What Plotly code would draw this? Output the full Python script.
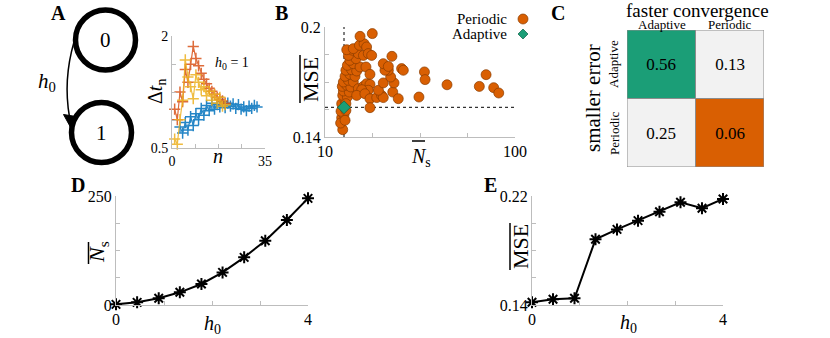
import plotly.graph_objs as go

W, H = 830, 338
FONT = 'Liberation Serif'
AXC = '#bdbdbd'

# panel A inset: inter-sample interval per sample index, h0 = 1
n_blue = list(range(3, 33))
dt_blue = [0.78, 0.70, 0.84, 0.74, 0.92, 0.80, 0.96, 0.88, 1.03, 0.94,
           1.07, 1.00, 1.10, 1.02, 1.08, 1.05, 1.12, 1.04, 1.10, 1.06,
           1.09, 1.03, 1.08, 1.02, 1.05, 1.00, 1.06, 1.03, 1.07, 1.05]
n_red = list(range(1, 21))
dt_red = [1.02, 0.88, 1.25, 1.12, 1.55, 1.38, 1.62, 1.86, 1.70, 1.60,
          1.50, 1.42, 1.36, 1.30, 1.26, 1.22, 1.18, 1.15, 1.13, 1.10]
n_yellow = list(range(1, 21))
dt_yellow = [0.62, 0.55, 0.88, 1.14, 1.68, 1.45, 1.32, 1.16, 1.48, 1.38,
             1.28, 1.32, 1.20, 1.26, 1.14, 1.22, 1.10, 1.18, 1.06, 1.08]

# panel B: mean number of samples vs mean MSE
ns_periodic = [18.4, 17.9, 19.0, 17.6, 19.9, 17.9, 19.5, 18.4, 20.6, 18.7,
               21.5, 18.2, 20.3, 22.2, 18.7, 21.1, 23.4, 19.5, 21.8, 24.2,
               19.9, 22.6, 25.0, 20.6, 23.4, 26.6, 21.8, 24.7, 21.1, 23.1,
               25.8, 28.2, 20.3, 23.4, 26.3, 28.5, 26.6, 32.4, 29.7, 30.5,
               32.1, 29.4, 31.3, 25.8, 28.2, 29.7, 31.3, 30.5, 27.4, 25.0,
               28.9, 31.3, 34.5, 36.8, 37.6, 35.3, 37.6, 42.1, 44.7, 42.7,
               41.1, 40.0, 38.4, 37.6, 40.0, 41.7, 46.3, 47.1, 54.5, 57.1,
               57.4, 67.8, 83.1, 86.3, 89.9, 92.3, 31.3, 19.9, 17.4, 19.5]
mse_periodic = [0.1440, 0.1505, 0.1522, 0.1540, 0.1545, 0.1582, 0.1600, 0.1627, 0.1618, 0.1651,
                0.1645, 0.1676, 0.1682, 0.1673, 0.1700, 0.1709, 0.1700, 0.1731, 0.1742, 0.1731,
                0.1764, 0.1767, 0.1760, 0.1791, 0.1800, 0.1782, 0.1818, 0.1827, 0.1845, 0.1873,
                0.1855, 0.1845, 0.1876, 0.1882, 0.1900, 0.1909, 0.1949, 0.1964, 0.1891, 0.1855,
                0.1845, 0.1782, 0.1742, 0.1664, 0.1676, 0.1691, 0.1687, 0.1655, 0.1658, 0.1627,
                0.1636, 0.1609, 0.1615, 0.1627, 0.1615, 0.1655, 0.1695, 0.1645, 0.1609, 0.1695,
                0.1727, 0.1764, 0.1764, 0.1800, 0.1785, 0.1840, 0.1773, 0.1764, 0.1618, 0.1755,
                0.1713, 0.1685, 0.1676, 0.1740, 0.1669, 0.1640, 0.1560, 0.1582, 0.1476, 0.1491]
ns_adaptive = [19.0]
mse_adaptive = [0.1562]

# panel C: fraction of runs
methods = ['Adaptive', 'Periodic']
fractions = [[0.56, 0.13],
             [0.25, 0.06]]

# panels D, E: dependence on h0
h0 = [0, 0.44, 0.89, 1.33, 1.78, 2.22, 2.67, 3.11, 3.56, 4]
ns_mean = [1.5, 6.1, 15.3, 29.1, 48.2, 74.8, 109.3, 147.5, 195.0, 244.6]
mse_mean = [0.1420, 0.1442, 0.1449, 0.1882, 0.1955, 0.2019, 0.2085, 0.2154, 0.2110, 0.2178]


def px(x):
    return x / W


def py(y):
    return 1 - y / H


def axis(x0, x1, rng, tickvals, ticktext, anchor, size=16, **kw):
    d = dict(
        domain=[x0, x1],
        range=rng,
        tickvals=tickvals,
        ticktext=ticktext,
        anchor=anchor,
        showline=True,
        linecolor=AXC,
        linewidth=1,
        ticks='inside',
        ticklen=4,
        tickcolor=AXC,
        showgrid=False,
        zeroline=False,
        tickfont=dict(family=FONT, size=size, color='black'),
        )
    d.update(kw)
    return d


def ends(vals):
    return [str(vals[0])] + [''] * (len(vals) - 2) + [str(vals[-1])]


def text(x, y, s, size=16, angle=0, **kw):
    d = dict(
        x=px(x), y=py(y), xref='paper', yref='paper',
        text=s, showarrow=False, textangle=angle,
        xanchor='center', yanchor='middle',
        font=dict(family=FONT, size=size, color='black'),
        )
    d.update(kw)
    return d


def line(x0, y0, x1, y1, width=1.5, **kw):
    d = dict(type='line', xref='paper', yref='paper',
             x0=px(x0), y0=py(y0), x1=px(x1), y1=py(y1),
             line=dict(color='black', width=width))
    d.update(kw)
    return d


traces = []
for n, dt, col in [(n_blue, dt_blue, '#0072BD'),
                   (n_red, dt_red, '#D95319'),
                   (n_yellow, dt_yellow, '#EDB120')]:
    traces.append(dict(
        type='scatter', x=n, y=dt, mode='lines+markers',
        xaxis='x', yaxis='y', opacity=0.85, cliponaxis=False,
        line=dict(color=col, width=1.2),
        marker=dict(symbol='cross-thin', size=8, line=dict(color=col, width=1.5)),
        ))

traces.append(dict(
    type='scatter', x=ns_periodic, y=mse_periodic, mode='markers',
    xaxis='x2', yaxis='y2', cliponaxis=False,
    marker=dict(symbol='circle', size=10, color='#D95F02',
                line=dict(color='#8a3c00', width=0.7)),
    ))
traces.append(dict(
    type='scatter', x=ns_adaptive, y=mse_adaptive, mode='markers',
    xaxis='x2', yaxis='y2', cliponaxis=False,
    marker=dict(symbol='diamond', size=10, color='#1B9E77',
                line=dict(color='#0b5e45', width=0.7)),
    ))

zcode = [[i if i == j else 2 for j in range(2)] for i in range(2)]
traces.append(dict(
    type='heatmap', z=zcode, x=[0, 1], y=[0, 1], text=fractions,
    texttemplate='%{text:.2f}', zmin=0, zmax=2, showscale=False,
    colorscale=[[0, '#1B9E77'], [0.33, '#1B9E77'], [0.34, '#D95F02'],
                [0.66, '#D95F02'], [0.67, '#F2F2F2'], [1, '#F2F2F2']],
    textfont=dict(family=FONT, size=17, color='black'),
    xaxis='x3', yaxis='y3', hoverinfo='skip',
    ))

for y, ax in [(ns_mean, '4'), (mse_mean, '5')]:
    traces.append(dict(
        type='scatter', x=h0, y=y, mode='lines+markers',
        xaxis='x' + ax, yaxis='y' + ax, cliponaxis=False,
        line=dict(color='black', width=2),
        marker=dict(symbol='asterisk-open', size=10, color='black',
                    line=dict(color='black', width=2)),
        ))

yt_a = [0.5, 0.875, 1.25, 1.625, 2]
xt_a = [0, 8.75, 17.5, 26.25, 35]
xt_b = [10, 32.5, 55, 77.5, 100]
yt_b = [0.14, 0.155, 0.17, 0.185, 0.2]
xt_h = [0, 1, 2, 3, 4]
yt_d = [0, 62.5, 125, 187.5, 250]
yt_e = [0.14, 0.16, 0.18, 0.2, 0.22]

shapes = [
    # panel A state diagram
    dict(type='circle', xref='paper', yref='paper', x0=px(75.5), x1=px(135.5),
         y0=py(70), y1=py(10), line=dict(color='black', width=5.5)),
    dict(type='circle', xref='paper', yref='paper', x0=px(71.5), x1=px(131.5),
         y0=py(162.5), y1=py(102.5), line=dict(color='black', width=5.5)),
    dict(type='path', xref='paper', yref='paper',
         path=f'M {px(74)},{py(42)} Q {px(63)},{py(80)} {px(69.5)},{py(117)}',
         line=dict(color='black', width=1.5)),
    dict(type='path', xref='paper', yref='paper', fillcolor='black',
         path=f'M {px(63.5)},{py(114.5)} L {px(76)},{py(116.5)} L {px(71.5)},{py(129)} Z',
         line=dict(color='black', width=1)),
    # panel B reference lines through the adaptive result
    dict(type='line', xref='x2', yref='y2', x0=ns_adaptive[0], x1=ns_adaptive[0],
         y0=yt_b[0], y1=yt_b[-1], line=dict(color='black', width=1, dash='dot'), layer='below'),
    dict(type='line', xref='x2', yref='y2', x0=xt_b[0], x1=xt_b[-1],
         y0=mse_adaptive[0], y1=mse_adaptive[0], line=dict(color='black', width=1, dash='dot'), layer='below'),
    # panel B legend keys
    dict(type='circle', xref='paper', yref='paper', x0=px(518), x1=px(528),
         y0=py(24), y1=py(14), fillcolor='#D95F02', line=dict(color='#8a3c00', width=0.7)),
    dict(type='path', xref='paper', yref='paper', fillcolor='#1B9E77',
         path=f'M {px(523)},{py(29)} L {px(528)},{py(34)} L {px(523)},{py(39)} L {px(518)},{py(34)} Z',
         line=dict(color='#0b5e45', width=0.7)),
    # panel C cell borders
    dict(type='rect', xref='x3', yref='y3', x0=-0.5, x1=1.5, y0=-0.5, y1=1.5,
         line=dict(color='#8c8c8c', width=1)),
    dict(type='line', xref='x3', yref='y3', x0=0.5, x1=0.5, y0=-0.5, y1=1.5,
         line=dict(color='#8c8c8c', width=1)),
    dict(type='line', xref='x3', yref='y3', x0=-0.5, x1=1.5, y0=0.5, y1=0.5,
         line=dict(color='#8c8c8c', width=1)),
    # overlines on axis labels
    line(412, 141, 425, 141),
    line(300, 55, 300, 103),
    line(88.5, 242, 88.5, 264),
    line(510, 223, 510, 270),
    ]

annotations = [
    text(58, 13, '<b>A</b>', 20),
    text(281, 13, '<b>B</b>', 20),
    text(558, 13, '<b>C</b>', 20),
    text(78, 185, '<b>D</b>', 20),
    text(490, 185, '<b>E</b>', 20),
    text(105.5, 40, '0', 21),
    text(101.5, 132.5, '1', 21),
    text(47, 82, '<i>h</i><sub>0</sub>', 21),
    text(232, 64, '<i>h</i><sub>0</sub> = 1', 14),
    text(156, 92, 'Δ<i>t</i><sub>n</sub>', 20, -90),
    text(218, 156, '<i>n</i>', 20),
    text(509, 19, 'Periodic', 15, xanchor='right'),
    text(509, 34, 'Adaptive', 15, xanchor='right'),
    text(421, 157, '<i>N</i><sub>s</sub>', 20),
    text(310, 80, 'MSE', 22, -90),
    text(697, 10, 'faster convergence', 19),
    text(662, 24, methods[0], 13),
    text(730, 24, methods[1], 13),
    text(593, 98, 'smaller error', 21, -90),
    text(614, 64, methods[0], 13, -90),
    text(614, 133, methods[1], 13, -90),
    text(98, 252, '<i>N</i><sub>s</sub>', 22, -90),
    text(212, 324, '<i>h</i><sub>0</sub>', 20),
    text(521, 247, 'MSE', 22, -90),
    text(628, 323, '<i>h</i><sub>0</sub>', 20),
    ]

layout = go.Layout(
    width=W,
    height=H,
    margin=dict(l=0, r=0, t=0, b=0, autoexpand=False),
    paper_bgcolor='white',
    plot_bgcolor='white',
    showlegend=False,
    hovermode=False,
    xaxis=axis(px(172), px(265), [0, 35], xt_a, ends(xt_a), 'y', 14),
    yaxis=axis(py(148), py(36), [0.5, 2], yt_a, ['0.5', '', '', '', '2'], 'x', 14),
    xaxis2=axis(px(325), px(515), [10, 100], xt_b, ends(xt_b), 'y2'),
    yaxis2=axis(py(137), py(27), [0.14, 0.2], yt_b, ['0.14', '', '', '', '0.2'], 'x2'),
    xaxis3=dict(domain=[px(627), px(764)], range=[-0.5, 1.5], anchor='y3',
                showticklabels=False, showline=False, showgrid=False,
                zeroline=False, ticks=''),
    yaxis3=dict(domain=[py(167), py(30)], range=[1.5, -0.5], anchor='x3',
                showticklabels=False, showline=False, showgrid=False, zeroline=False),
    xaxis4=axis(px(116), px(308), [0, 4], xt_h, ends(xt_h), 'y4'),
    yaxis4=axis(py(305), py(196), [0, 250], yt_d, ['0', '', '', '', '250'], 'x4'),
    xaxis5=axis(px(532), px(723), [0, 4], xt_h, ends(xt_h), 'y5'),
    yaxis5=axis(py(305), py(196), [0.14, 0.22], yt_e, ['0.14', '', '', '', '0.22'], 'x5'),
    shapes=shapes,
    annotations=annotations,
    )

fig = go.Figure(data=traces, layout=layout)
# drop the default page margin so the figure sits at the window's corner
fig.write_html('out.html', config=dict(displayModeBar=False),
               post_script="document.body.style.margin = '0';")
